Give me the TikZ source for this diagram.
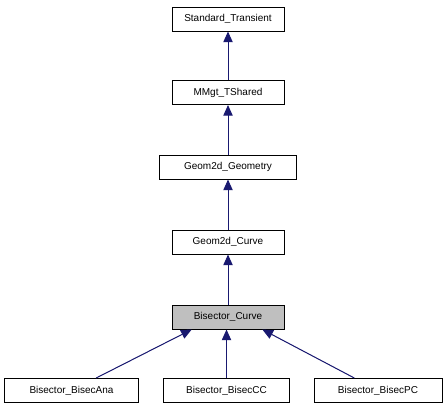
\documentclass[tikz,border=0pt]{standalone}
\usepackage{fontspec}
\setmainfont{Liberation Sans}
\usetikzlibrary{positioning,arrows.meta,shapes}

\definecolor{edgeblue}{HTML}{191970}
\definecolor{curgray}{HTML}{BFBFBF}

\begin{document}
\begin{tikzpicture}[
  x=0.75pt, y=-0.75pt,
  font=\fontsize{7.5pt}{9pt}\selectfont,
  cls/.style={rectangle, draw=black, line width=0.75pt, fill=white,
              minimum height=18pt, minimum width=84pt, inner sep=2pt, align=center},
  cur/.style={cls, fill=curgray},
  inh/.style={-{Triangle[length=8pt,width=7pt]}, draw=edgeblue, fill=edgeblue, line width=0.75pt}
]
\useasboundingbox (0,0) rectangle (448,411);
\node[cls] (st)  at (228, 19)    {Standard\_Transient};
\node[cls] (mm)  at (228, 92.5)  {MMgt\_TShared};
\node[cls, minimum width=103pt] (gg) at (228, 167) {Geom2d\_Geometry};
\node[cls] (gc)  at (228, 242)   {Geom2d\_Curve};
\node[cur] (bc)  at (228, 317)   {Bisector\_Curve};
\node[cls, minimum width=100pt] (ana) at (71.5, 390.5) {Bisector\_BisecAna};
\node[cls, minimum width=94pt]  (bcc) at (226.5, 390.5) {Bisector\_BisecCC};
\node[cls, minimum width=96pt]  (bpc) at (378, 390.5) {Bisector\_BisecPC};

\draw[inh] (mm.north) -- (st.south);
\draw[inh] (gg.north) -- (mm.south);
\draw[inh] (gc.north) -- (gg.south);
\draw[inh] (bc.north) -- (gc.south);
\draw[inh] (ana) -- (bc.199);
\draw[inh] (bcc.north) -- (bcc.north |- bc.south);
\draw[inh] (bpc) -- (bc.340);
\end{tikzpicture}
\end{document}
